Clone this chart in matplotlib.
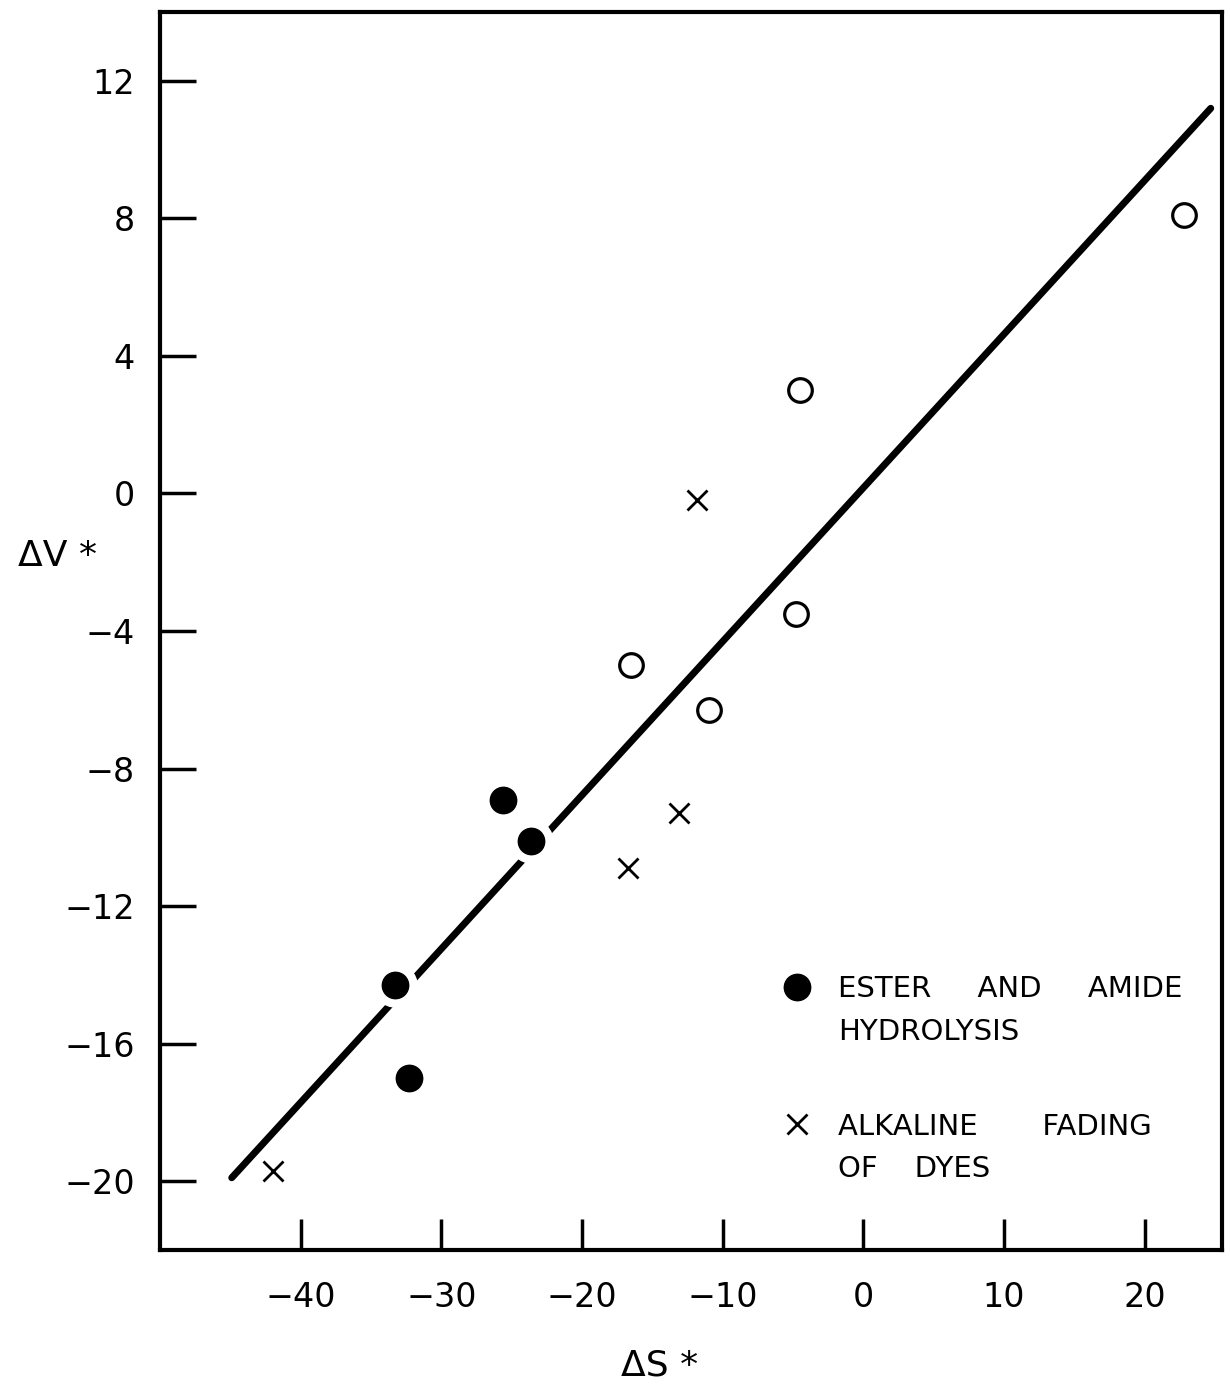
import matplotlib
matplotlib.use('Agg')
import matplotlib.pyplot as plt
from matplotlib.lines import Line2D
import numpy as np

# data
ester_ds = [-25.6, -23.6, -33.3, -32.3]
ester_dv = [-8.9, -10.1, -14.3, -17.0]

open_ds = [22.8, -4.5, -4.8, -11.0, -16.5]
open_dv = [8.1, 3.0, -3.5, -6.3, -5.0]

dye_ds = [-11.8, -13.1, -16.7, -42.0]
dye_dv = [-0.2, -9.3, -10.9, -19.7]

fit_ds = [-44.9, 24.7]
fit_dv = [-19.9, 11.2]

xticks = [-40, -30, -20, -10, 0, 10, 20]
yticks = [12, 8, 4, 0, -4, -8, -12, -16, -20]

plt.rcParams['font.family'] = ['DejaVu Sans']

fig = plt.figure(figsize=(12.3, 13.87), dpi=100)
ax = fig.add_axes([160 / 1230, 1 - 1250 / 1387, 1062 / 1230, 1238 / 1387])

# fit line
ax.plot(fit_ds, fit_dv, color='black', lw=5, solid_capstyle='round', zorder=2)

# white halo so the line breaks around the filled dots
ax.plot(ester_ds, ester_dv, 'o', ms=31, color='white', zorder=2.5)
ax.plot(ester_ds, ester_dv, 'o', ms=19, color='black', zorder=3)
ax.plot(open_ds, open_dv, 'o', ms=17, mfc='white', mec='black', mew=2.3, zorder=3)
ax.plot(dye_ds, dye_dv, 'x', ms=14, color='black', mew=2, zorder=3)

ax.set_xlim(-50, 25.5)
ax.set_ylim(-22, 14)

ax.set_xticks(xticks)
ax.set_xticklabels([f'{t}'.replace('-', '\u2212') for t in xticks])
ax.set_yticks(yticks)
ax.set_yticklabels([f'{t}'.replace('-', '\u2212') for t in yticks])
ax.tick_params(direction='in', width=2.5, labelsize=24)
ax.tick_params(axis='x', length=22, pad=22)
ax.tick_params(axis='y', length=26, pad=18)
for s in ax.spines.values():
    s.set_linewidth(3)

fig.text(57 / 1230, 1 - 556 / 1387, '\u0394V *', fontsize=26, ha='center', va='center')
fig.text(660 / 1230, 1 - 1366 / 1387, '\u0394S *', fontsize=26, ha='center', va='center')

# legend, in two blocks
dot = Line2D([], [], marker='o', ls='none', ms=19, color='black')
cross = Line2D([], [], marker='x', ls='none', ms=14, color='black', mew=2)
blank = Line2D([], [], ls='none')

leg_kw = dict(frameon=False, fontsize=21, handlelength=0.95, handletextpad=0.95,
              labelspacing=0.5, borderpad=0, borderaxespad=0, loc='upper left')
leg1 = ax.legend([dot, blank], ['ESTER     AND     AMIDE', 'HYDROLYSIS'],
                 bbox_to_anchor=(0.5866, 0.2220), **leg_kw)
ax.add_artist(leg1)
ax.legend([cross, blank], ['ALKALINE       FADING', 'OF    DYES'],
          bbox_to_anchor=(0.5866, 0.1110), **leg_kw)

fig.savefig('out.png', dpi=100)
